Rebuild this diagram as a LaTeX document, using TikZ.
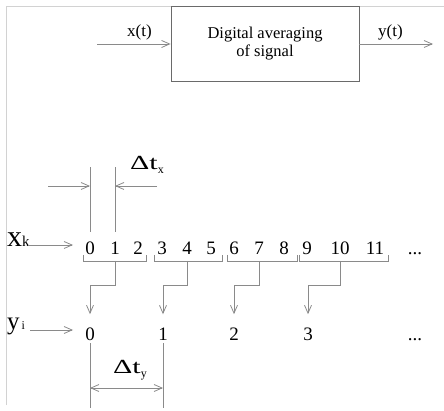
\documentclass[tikz,border=0pt]{standalone}
\usepackage{fontspec}
\setmainfont{Liberation Serif}
\usetikzlibrary{arrows.meta,calc}
\definecolor{wirecol}{HTML}{8A8A8A}
\definecolor{framecol}{HTML}{D2D2D2}
\definecolor{boxcol}{HTML}{6A6A6A}
\newcommand{\deltat}[1]{\scalebox{1.5}[1]{\fontsize{20}{20}\selectfont Δt}\raisebox{-4pt}{\fontsize{12}{12}\selectfont #1}}
\begin{document}
\begin{tikzpicture}[x=1pt,y=-1pt,
  wire/.style={draw=wirecol,line width=0.8pt},
  arr/.style={wire,-{Straight Barb[length=8pt,width=7pt]}},
  darr/.style={wire,{Straight Barb[length=8pt,width=7pt]}-{Straight Barb[length=8pt,width=7pt]}},
  num/.style={font=\fontsize{19}{19}\selectfont,inner sep=0pt,anchor=base},
  sig/.style={font=\fontsize{17}{17}\selectfont,inner sep=0pt,anchor=base},
  lbl/.style={inner sep=0pt,anchor=base west},
]
\useasboundingbox (0,0) rectangle (444,411);

% outer frame
\draw[framecol,line width=0.8pt] (6,405) -- (6,6) -- (444,6);

% block diagram
\node[draw=boxcol,line width=0.8pt,minimum width=188pt,minimum height=75pt,
      align=center,font=\fontsize{16.5}{18}\selectfont] (avg) at (265,43.5)
      {Digital averaging\\of signal};
\coordinate (in) at (97,44);
\coordinate (out) at (433,44);
\draw[arr] (in) -- (avg.west |- in);
\draw[arr] (avg.east |- out) -- (out);
\node[sig] (xt) at (139.5,37) {x(t)};
\node[sig] (yt) at (390.5,37) {y(t)};

% input samples
\foreach \n/\x in {0/90,1/115,2/138,3/162,4/187,5/211,6/234,7/259,8/284,9/307,10/340,11/375}
  \node[num] (x\n) at (\x,255) {\n};
\node[num] (xdots) at (415,255) {...};

% output samples
\foreach \n/\x in {0/90,1/163,2/234,3/308}
  \node[num] (y\n) at (\x,340) {\n};
\node[num] (ydots) at (415,340) {...};

% row labels
\node[lbl] (xk) at (7,247) {\fontsize{30}{30}\selectfont x\fontsize{15}{15}\selectfont k};
\node[lbl] (yi) at (7,330) {\fontsize{25}{25}\selectfont y\fontsize{12}{12}\selectfont\,i};
\coordinate (xkin) at (73,245);
\coordinate (yiin) at (73,330);
\draw[arr] (28,245) -- (xkin);
\draw[arr] (30,330) -- (yiin);

% grouping brackets
\foreach \a/\b in {83/146,154/222,227/297,299/388}
  \draw[wire] (\a,255) -- (\a,261) -- (\b,261) -- (\b,255);

% group to output connectors
\draw[arr,shorten >=13pt] (x1 |- 0,261) -- (x1 |- 0,285) -| (y0.north);
\draw[arr,shorten >=13pt] (x4 |- 0,261) -- (x4 |- 0,285) -| (y1.north);
\draw[arr,shorten >=13pt] (x7 |- 0,261) -- (x7 |- 0,285) -| (y2.north);
\draw[arr,shorten >=13pt] (x10 |- 0,261) -- (x10 |- 0,285) -| (y3.north);

% input spacing dimension
\draw[wire] (x0 |- 0,232) -- (x0 |- 0,167);
\draw[wire] (x1 |- 0,232) -- (x1 |- 0,167);
\coordinate (dxl) at (48,186);
\coordinate (dxr) at (157,186);
\draw[arr] (dxl) -- (x0 |- dxl);
\draw[arr] (dxr) -- (x1 |- dxr);
\node[lbl] (dtx) at (130,170) {\deltat{x}};

% output spacing dimension
\draw[wire] (y0 |- 0,343) -- (y0 |- 0,408);
\draw[wire] (y1 |- 0,343) -- (y1 |- 0,408);
\draw[darr] (y0 |- 0,388) -- (y1 |- 0,388);
\node[lbl] (dty) at (113,373) {\deltat{y}};
\end{tikzpicture}
\end{document}
